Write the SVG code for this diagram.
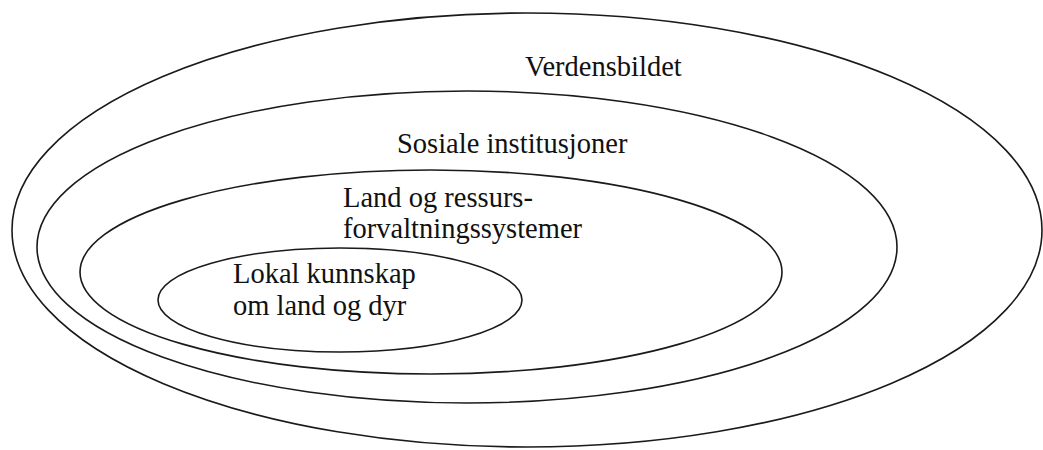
<svg xmlns="http://www.w3.org/2000/svg" width="1043" height="450" viewBox="0 0 1043 450">
<style>
.ring{fill:none;stroke:#1a1a1a;stroke-width:1.6}
.lbl{font-family:"Liberation Serif","Times New Roman",serif;font-size:28.5px;fill:#111}
</style>
<rect width="1043" height="450" fill="#fff"/>
<g id="verdensbildet">
<ellipse class="ring" cx="527" cy="230" rx="515" ry="217"/>
<text class="lbl" x="525" y="76">Verdensbildet</text>
</g>
<g id="sosiale-institusjoner">
<ellipse class="ring" cx="467" cy="247" rx="430" ry="156"/>
<text class="lbl" x="397" y="153">Sosiale institusjoner</text>
</g>
<g id="land-og-ressurs">
<ellipse class="ring" cx="431" cy="272" rx="351" ry="102"/>
<text class="lbl" x="343" y="207">Land og ressurs-</text>
<text class="lbl" x="343" y="238">forvaltningssystemer</text>
</g>
<g id="lokal-kunnskap">
<ellipse class="ring" cx="340" cy="300" rx="182" ry="52"/>
<text class="lbl" x="233" y="283">Lokal kunnskap</text>
<text class="lbl" x="233" y="315">om land og dyr</text>
</g>
<g id="connectors"/>
</svg>
